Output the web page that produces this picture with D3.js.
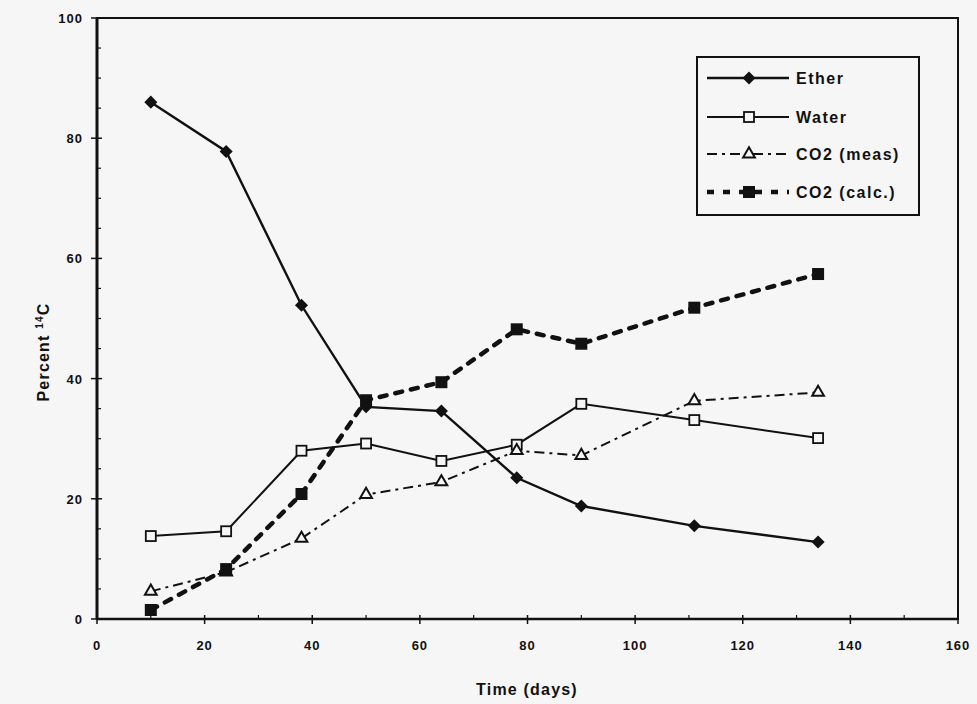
<!DOCTYPE html>
<html><head><meta charset="utf-8">
<script src="https://cdn.jsdelivr.net/npm/d3@7"></script>
<style>
html,body{margin:0;padding:0;background:#f6f6f6;}
text{font-family:"Liberation Sans",Arial,sans-serif;font-weight:bold;fill:#111;}
</style></head><body>
<script>
const days = [10, 24, 38, 50, 64, 78, 90, 111, 134];
const ether = [86, 77.8, 52.2, 35.3, 34.6, 23.5, 18.8, 15.5, 12.8];
const water = [13.8, 14.6, 28, 29.2, 26.3, 29, 35.8, 33.1, 30.1];
const co2Meas = [4.6, 7.8, 13.4, 20.7, 22.8, 28, 27.2, 36.3, 37.7];
const co2Calc = [1.5, 8.3, 20.8, 36.4, 39.4, 48.2, 45.8, 51.8, 57.4];
const seriesNames = ["Ether", "Water", "CO2 (meas)", "CO2 (calc.)"];
const xTicks = [0, 20, 40, 60, 80, 100, 120, 140, 160];
const yTicks = [0, 20, 40, 60, 80, 100];

const W = 977, H = 704;
const svg = d3.select("body").append("svg").attr("width", W).attr("height", H)
  .style("background", "#f6f6f6");
const L = 97, R = 958, T = 18, B = 619;
const x = d3.scaleLinear().domain([0, 160]).range([L, R]);
const y = d3.scaleLinear().domain([0, 100]).range([B, T]);

// frame
svg.append("rect").attr("x", L).attr("y", T).attr("width", R - L).attr("height", B - T)
  .attr("fill", "none").attr("stroke", "#111").attr("stroke-width", 2);
svg.append("line").attr("x1", L).attr("x2", L).attr("y1", T).attr("y2", B)
  .attr("stroke", "#111").attr("stroke-width", 3);
svg.append("line").attr("x1", L).attr("x2", R).attr("y1", B).attr("y2", B)
  .attr("stroke", "#111").attr("stroke-width", 2.5);

// ticks
const g = svg.append("g").attr("stroke", "#111");
d3.range(0, 161, 10).forEach(v => {
  if (v % 20 === 0) g.append("line").attr("x1", x(v)).attr("x2", x(v)).attr("y1", B - 4).attr("y2", B + 5).attr("stroke-width", 1.5);
  else g.append("line").attr("x1", x(v)).attr("x2", x(v)).attr("y1", B - 4).attr("y2", B).attr("stroke-width", 1.2);
});
d3.range(0, 101, 5).forEach(v => {
  if (v % 20 === 0) g.append("line").attr("x1", L - 6).attr("x2", L + 5).attr("y1", y(v)).attr("y2", y(v)).attr("stroke-width", 1.5);
  else g.append("line").attr("x1", L).attr("x2", L + 4).attr("y1", y(v)).attr("y2", y(v)).attr("stroke-width", 1.2);
});

// tick labels
svg.selectAll(".xl").data(xTicks).enter().append("text")
  .attr("x", d => x(d)).attr("y", 650).attr("text-anchor", "middle")
  .attr("font-size", 13).attr("letter-spacing", 1).text(d => d);
svg.selectAll(".yl").data(yTicks).enter().append("text")
  .attr("x", 83).attr("y", d => y(d) + 5).attr("text-anchor", "end")
  .attr("font-size", 13).attr("letter-spacing", 1).text(d => d);

// axis titles
svg.append("text").attr("x", 527).attr("y", 695).attr("text-anchor", "middle")
  .attr("font-size", 16).attr("letter-spacing", 1.2).text("Time (days)");
const yt = svg.append("text").attr("transform", "translate(49,352) rotate(-90)")
  .attr("text-anchor", "middle").attr("font-size", 16).attr("letter-spacing", 1.2);
yt.append("tspan").text("Percent  ");
yt.append("tspan").attr("font-size", 10).attr("dy", -6).text("14");
yt.append("tspan").attr("dy", 6).text("C");

const line = d3.line().x(d => x(d[0])).y(d => y(d[1]));
const zip = vals => days.map((d, i) => [d, vals[i]]);

const styles = [
  {vals: ether, width: 2.4, dash: null, marker: "diamond"},
  {vals: water, width: 2, dash: null, marker: "square"},
  {vals: co2Meas, width: 2, dash: "10,5,3,5", marker: "triangle"},
  {vals: co2Calc, width: 4.5, dash: "7,9", marker: "fsquare"}
];

function drawMarker(sel, type, cx, cy) {
  if (type === "diamond") {
    sel.append("path").attr("d", d3.symbol(d3.symbolSquare, 85)()).attr("transform", `translate(${cx},${cy}) rotate(45)`).attr("fill", "#111");
  } else if (type === "square") {
    sel.append("rect").attr("x", cx - 5).attr("y", cy - 5).attr("width", 10).attr("height", 10)
      .attr("fill", "#f6f6f6").attr("stroke", "#111").attr("stroke-width", 1.8);
  } else if (type === "triangle") {
    sel.append("path").attr("d", d3.symbol(d3.symbolTriangle, 60)()).attr("transform", `translate(${cx},${cy})`)
      .attr("fill", "#f6f6f6").attr("stroke", "#111").attr("stroke-width", 2);
  } else {
    sel.append("rect").attr("x", cx - 6).attr("y", cy - 6).attr("width", 12).attr("height", 12).attr("fill", "#111");
  }
}

styles.forEach(s => {
  svg.append("path").datum(zip(s.vals)).attr("d", line).attr("fill", "none")
    .attr("stroke", "#111").attr("stroke-width", s.width)
    .attr("stroke-dasharray", s.dash).attr("stroke-linecap", s.marker === "fsquare" ? "round" : "butt");
});
styles.forEach(s => {
  const gm = svg.append("g");
  zip(s.vals).forEach(p => drawMarker(gm, s.marker, x(p[0]), y(p[1])));
});

// legend
const lg = svg.append("g");
lg.append("rect").attr("x", 697).attr("y", 57).attr("width", 222).attr("height", 158)
  .attr("fill", "#f6f6f6").attr("stroke", "#111").attr("stroke-width", 2);
const legendY = [78, 117, 154, 192];
seriesNames.forEach((n, i) => {
  const s = styles[i];
  lg.append("line").attr("x1", 707).attr("x2", 789).attr("y1", legendY[i]).attr("y2", legendY[i])
    .attr("stroke", "#111").attr("stroke-width", s.width).attr("stroke-dasharray", s.dash);
  drawMarker(lg, s.marker, 749, legendY[i]);
  lg.append("text").attr("x", 796).attr("y", legendY[i] + 6).attr("font-size", 16)
    .attr("font-weight", "normal").attr("letter-spacing", 1.5).text(n);
});
</script></body></html>
